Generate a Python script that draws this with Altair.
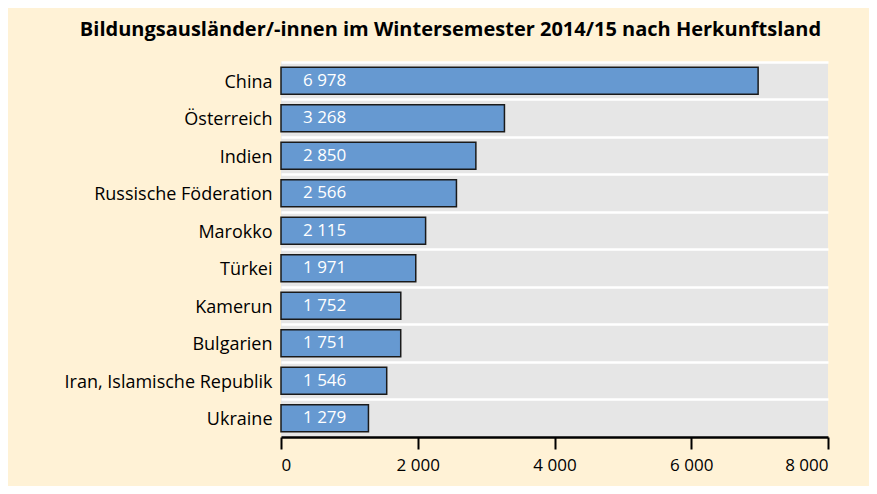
import altair as alt
import pandas as pd

countries = ["China", "Österreich", "Indien", "Russische Föderation", "Marokko",
             "Türkei", "Kamerun", "Bulgarien", "Iran, Islamische Republik", "Ukraine"]
values = [6978, 3268, 2850, 2566, 2115, 1971, 1752, 1751, 1546, 1279]
value_labels = ["6 978", "3 268", "2 850", "2 566", "2 115", "1 971", "1 752", "1 751", "1 546", "1 279"]
x_ticks = [0, 2000, 4000, 6000, 8000]

df = pd.DataFrame({"land": countries, "wert": values, "label": value_labels})

FONT = "Open Sans"

y_enc = alt.Y(
    "land:N", sort=countries, title=None,
    scale=alt.Scale(paddingInner=0, paddingOuter=0),
    axis=alt.Axis(grid=True, gridColor="white", gridWidth=2.5, bandPosition=0,
                  domain=False, ticks=False, labelFont=FONT, labelFontSize=18,
                  labelColor="black", labelPadding=9, labelLimit=400, labelOffset=2),
)

x_enc = alt.X(
    "wert:Q", title=None,
    scale=alt.Scale(domain=[0, 8000], nice=False),
    axis=alt.Axis(values=x_ticks, grid=False, domain=True, domainColor="black",
                  domainWidth=2.5, ticks=True, tickColor="black", tickWidth=2,
                  tickSize=12, labelFont=FONT, labelFontSize=17, labelColor="black",
                  labelPadding=8,
                  labelExpr="replace(format(datum.value, ','), ',', ' ')"),
)

bars = alt.Chart(df).mark_bar(
    height={"band": 0.72}, color="#6699D1", stroke="#1a1a1a", strokeWidth=1.5
).encode(x=x_enc, y=y_enc)

texts = alt.Chart(df).mark_text(
    align="left", baseline="middle", dx=22, color="white", font=FONT, fontSize=17
).encode(x=alt.datum(0), y=alt.Y("land:N", sort=countries), text="label:N")

chart = alt.layer(bars, texts).properties(
    width=547, height=375,
    autosize=alt.AutoSizeParams(type="none"),
    padding={"left": 273, "top": 54, "right": 41, "bottom": 49},
    background="#FFF2D6",
    title=alt.TitleParams(
        "Bildungsausländer/-innen im Wintersemester 2014/15 nach Herkunftsland",
        font=FONT, fontSize=20, fontWeight="bold", color="black",
        anchor="middle", dx=-104, offset=22),
).configure_view(fill="#E6E6E6", stroke=None)

chart.save("out.html", embed_options={"renderer": "svg", "actions": False})
